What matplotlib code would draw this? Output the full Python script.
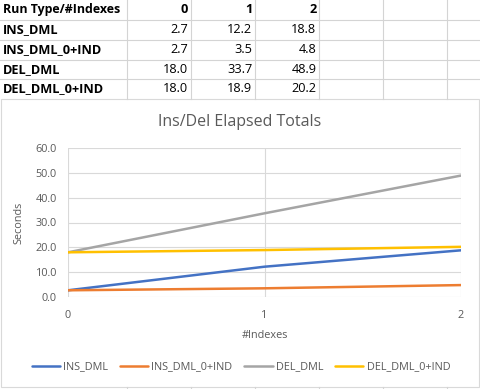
import matplotlib
matplotlib.use("Agg")
import matplotlib.pyplot as plt
from matplotlib.lines import Line2D
from matplotlib.patches import Rectangle

plt.rcParams['font.family'] = ['Open Sans', 'DejaVu Sans']

# data
index_counts = [0, 1, 2]
run_types = ['INS_DML', 'INS_DML_0+IND', 'DEL_DML', 'DEL_DML_0+IND']
ins_dml = [2.7, 12.2, 18.8]
ins_dml_0ind = [2.7, 3.5, 4.8]
del_dml = [18.0, 33.7, 48.9]
del_dml_0ind = [18.0, 18.9, 20.2]
series = [ins_dml, ins_dml_0ind, del_dml, del_dml_0ind]
colors = ['#4472C4', '#ED7D31', '#A5A5A5', '#FFC000']

W, H = 481, 389
fig = plt.figure(figsize=(W / 100, H / 100), dpi=100)


def fx(px):
    return px / W


def fy(py):
    return 1 - py / H


grid_col = '#D4D4D4'

# spreadsheet cells above the chart
col_edges = [127.3, 191.3, 255.3, 319.3, 383.3, 447.3]
row_edges = [19.5, 39.5, 59.5, 79.3]
for x in col_edges:
    fig.add_artist(Line2D([fx(x), fx(x)], [fy(0), fy(99)], color=grid_col, lw=0.8))
for y in row_edges:
    fig.add_artist(Line2D([0, 1], [fy(y), fy(y)], color=grid_col, lw=0.8))
# stubs of cell gridlines peeking below the chart
for x in col_edges:
    fig.add_artist(Line2D([fx(x), fx(x)], [fy(387), fy(389)], color=grid_col, lw=0.8))

row_mid = [9.5, 29.5, 49.5, 69.5, 89]
cell_font = 9.2
fig.text(fx(3), fy(row_mid[0]), 'Run Type/#Indexes', ha='left', va='center',
         fontsize=cell_font - 0.3, fontweight='bold')
for j, n in enumerate(index_counts):
    fig.text(fx(col_edges[j + 1] - 3), fy(row_mid[0]), str(n), ha='right',
             va='center', fontsize=cell_font, fontweight='bold')
for i, name in enumerate(run_types):
    fig.text(fx(3), fy(row_mid[i + 1]), name, ha='left', va='center',
             fontsize=cell_font, fontweight='bold')
    for j, v in enumerate(series[i]):
        fig.text(fx(col_edges[j + 1] - 3), fy(row_mid[i + 1]), '{:.1f}'.format(v),
                 ha='right', va='center', fontsize=cell_font)

# chart frame
fig.add_artist(Rectangle((fx(0.5), fy(387)), fx(478.5), (387 - 99) / H,
                         facecolor='white', edgecolor='#D9D9D9', lw=0.8,
                         zorder=-1))

ax = fig.add_axes([fx(68), fy(297), fx(461 - 68), (297 - 148) / H])
ax.set_zorder(2)
ax.patch.set_alpha(0)
for s, c, name in zip(series, colors, run_types):
    ax.plot(index_counts, s, color=c, lw=1.8, label=name, solid_capstyle='round')

ax.set_xlim(0, 2)
ax.set_ylim(0, 60)
ax.set_xticks(index_counts)
ax.set_yticks(range(0, 61, 10))
ax.set_yticklabels(['{:.1f}'.format(v) for v in range(0, 61, 10)])
ax.grid(True, color='#D9D9D9', lw=0.8)
ax.set_axisbelow(True)
for sp in ax.spines.values():
    sp.set_visible(False)
ax.tick_params(length=0, labelsize=7.8, colors='#595959', pad=8)
ax.tick_params(axis='x', pad=9)
ax.set_xlabel('#Indexes', fontsize=7.8, color='#595959', labelpad=7)
ax.set_ylabel('Seconds', fontsize=7.8, color='#595959', labelpad=8)

fig.text(fx(240), fy(122), 'Ins/Del Elapsed Totals', ha='center', va='center',
         fontsize=11.5, color='#595959')

leg = fig.legend(loc='center', bbox_to_anchor=(fx(241), fy(367)), ncol=4,
                 frameon=False, fontsize=7.8, handlelength=2.6,
                 handletextpad=0.3, columnspacing=1.1)
for t in leg.get_texts():
    t.set_color('#595959')

plt.savefig('out.png', dpi=100)
